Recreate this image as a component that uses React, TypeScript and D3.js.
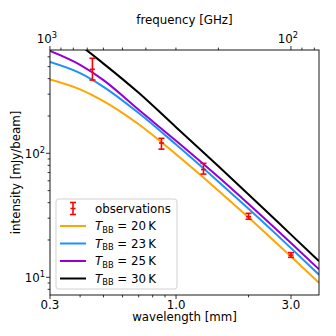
import React from 'react';
import * as d3 from 'd3';

const wavelengths = [0.3, 0.4, 0.5, 0.7, 1.0, 1.5, 2.0, 3.0, 3.92];
const model20K = [393.8, 327.6, 263.6, 171.4, 98.3, 50.0, 30.4, 14.7, 9.03];
const model23K = [544.9, 442.6, 343.9, 211.3, 117.8, 59.1, 35.7, 17.2, 10.5];
const model25K = [668, 516.3, 389.4, 224.3, 126.3, 64.3, 39.0, 18.9, 11.6];
const model30K = [1034, 741.8, 529.0, 307.5, 162.4, 78.6, 46.6, 22.1, 13.5];

const modelLabels = ['20', '23', '25', '30'];
const modelColors = ['#FFA500', '#1E90FF', '#9400D3', '#000000'];

const obsWavelength = [0.45, 0.87, 1.3, 2.0, 3.0];
const obsIntensity = [476, 121, 74, 30.8, 15.1];
const obsErrLow = [390, 108, 68, 29.4, 14.5];
const obsErrHigh = [584, 132, 83, 32.8, 15.8];

const xTickValues = [0.3, 1.0, 3.0];
const xTickLabels = ['0.3', '1.0', '3.0'];
const freqMajor = [1000, 100];
const freqMajorExp = ['3', '2'];
const yMajor = [10, 100];
const yMajorExp = ['1', '2'];

const W = 336, H = 336;
const left = 50, right = 319, top = 50, bottom = 295;
const FONT = 'DejaVu Sans';
const FS = 11.8;
const C = 299.792458;

export default function App() {
  const x = d3.scaleLog().domain([0.3, 3.92]).range([left, right]);
  const y = d3.scaleLog().domain([7.2, 681]).range([bottom, top]);
  const xf = d3.scaleLog().domain([C / 0.3, C / 3.92]).range([left, right]);

  const models = [model20K, model23K, model25K, model30K];
  const line = d3
    .line<[number, number]>()
    .x((d) => x(d[0]))
    .y((d) => y(d[1]))
    .curve(d3.curveMonotoneX);

  const xMinor: number[] = [];
  [0.1, 1].forEach((dec) => {
    for (let k = 2; k <= 9; k++) {
      const v = k * dec;
      if (v >= 0.3 && v <= 3.92 && !xTickValues.some((t) => Math.abs(t - v) < 1e-9)) xMinor.push(v);
    }
  });
  const fMinor: number[] = [];
  [10, 100].forEach((dec) => {
    for (let k = 2; k <= 9; k++) {
      const v = k * dec;
      if (v <= C / 0.3 && v >= C / 3.92) fMinor.push(v);
    }
  });
  const yMinor: number[] = [];
  [1, 10, 100].forEach((dec) => {
    for (let k = 2; k <= 9; k++) {
      const v = k * dec;
      if (v >= 7.2 && v <= 681) yMinor.push(v);
    }
  });

  const MAJ = 4, MIN = 2.4;

  const legendX = 56, legendY = 199, legendW = 121, legendH = 90;
  const rowY = [208.5, 226, 243.5, 261, 278.5];

  return (
    <svg
      width={W}
      height={H}
      style={{ position: 'absolute', left: 0, top: 0, background: '#fff' }}
      fontFamily={FONT}
    >
      <defs>
        <clipPath id="plotclip">
          <rect x={left} y={top} width={right - left} height={bottom - top} />
        </clipPath>
      </defs>
      <rect x={0} y={0} width={W} height={H} fill="#fff" />

      <g clipPath="url(#plotclip)">
        {models.map((m, i) => (
          <path
            key={i}
            d={line(wavelengths.map((w, j) => [w, m[j]] as [number, number])) || ''}
            fill="none"
            stroke={modelColors[i]}
            strokeWidth={2}
          />
        ))}
      </g>

      <g stroke="red" strokeWidth={1.6}>
        {obsWavelength.map((w, i) => {
          const cx = x(w);
          return (
            <g key={i}>
              <line x1={cx} x2={cx} y1={y(obsErrLow[i])} y2={y(obsErrHigh[i])} />
              <line x1={cx - 3} x2={cx + 3} y1={y(obsErrLow[i])} y2={y(obsErrLow[i])} />
              <line x1={cx - 3} x2={cx + 3} y1={y(obsErrHigh[i])} y2={y(obsErrHigh[i])} />
              <line x1={cx - 2.5} x2={cx + 2.5} y1={y(obsIntensity[i])} y2={y(obsIntensity[i])} />
            </g>
          );
        })}
      </g>

      <rect x={left} y={top} width={right - left} height={bottom - top} fill="none" stroke="#000" strokeWidth={0.9} />

      <g stroke="#000" strokeWidth={0.8}>
        {xTickValues.map((v, i) => (
          <line key={'xm' + i} x1={x(v)} x2={x(v)} y1={bottom} y2={bottom + MAJ} />
        ))}
        {xMinor.map((v, i) => (
          <line key={'xn' + i} x1={x(v)} x2={x(v)} y1={bottom} y2={bottom + MIN} />
        ))}
        {freqMajor.map((v, i) => (
          <line key={'fm' + i} x1={xf(v)} x2={xf(v)} y1={top} y2={top - MAJ} />
        ))}
        {fMinor.map((v, i) => (
          <line key={'fn' + i} x1={xf(v)} x2={xf(v)} y1={top} y2={top - MIN} />
        ))}
        {yMajor.map((v, i) => (
          <line key={'ym' + i} x1={left - MAJ} x2={left} y1={y(v)} y2={y(v)} />
        ))}
        {yMinor.map((v, i) => (
          <line key={'yn' + i} x1={left - MIN} x2={left} y1={y(v)} y2={y(v)} />
        ))}
      </g>

      <g fontSize={FS} fill="#000">
        {xTickValues.map((v, i) => (
          <text key={'xl' + i} x={x(v)} y={309} textAnchor="middle">
            {xTickLabels[i]}
          </text>
        ))}
        {freqMajor.map((v, i) => (
          <text key={'fl' + i} x={xf(v) - 3} y={43} textAnchor="middle">
            10
            <tspan dy={-5} fontSize={8.3}>
              {freqMajorExp[i]}
            </tspan>
          </text>
        ))}
        {yMajor.map((v, i) => (
          <text key={'yl' + i} x={45} y={y(v) + 4.5} textAnchor="end">
            10
            <tspan dy={-5} fontSize={8.3}>
              {yMajorExp[i]}
            </tspan>
          </text>
        ))}
        <text x={(left + right) / 2} y={320.5} textAnchor="middle">
          wavelength [mm]
        </text>
        <text x={(left + right) / 2} y={23.5} textAnchor="middle">
          frequency [GHz]
        </text>
        <text transform={`translate(19.5,${(top + bottom) / 2}) rotate(-90)`} textAnchor="middle">
          intensity [mJy/beam]
        </text>
      </g>

      <g>
        <rect
          x={legendX}
          y={legendY}
          width={legendW}
          height={legendH}
          rx={2.5}
          fill="#fff"
          fillOpacity={0.8}
          stroke="#cccccc"
          strokeWidth={0.9}
        />
        <g stroke="red" strokeWidth={1.6}>
          <line x1={73} x2={73} y1={rowY[0] - 6} y2={rowY[0] + 6} />
          <line x1={70} x2={76} y1={rowY[0] - 6} y2={rowY[0] - 6} />
          <line x1={70} x2={76} y1={rowY[0] + 6} y2={rowY[0] + 6} />
          <line x1={70.5} x2={75.5} y1={rowY[0]} y2={rowY[0]} />
        </g>
        <text x={95} y={rowY[0] + 4.3} fontSize={FS}>
          observations
        </text>
        {modelLabels.map((lab, i) => (
          <g key={'lg' + i}>
            <line x1={60} x2={86} y1={rowY[i + 1]} y2={rowY[i + 1]} stroke={modelColors[i]} strokeWidth={2} />
            <text x={95} y={rowY[i + 1] + 4.3} fontSize={FS}>
              <tspan fontStyle="italic">T</tspan>
              <tspan fontSize={8.3} dy={2.5}>
                BB
              </tspan>
              <tspan dy={-2.5}>{` = ${lab}\u2009K`}</tspan>
            </text>
          </g>
        ))}
      </g>
    </svg>
  );
}
